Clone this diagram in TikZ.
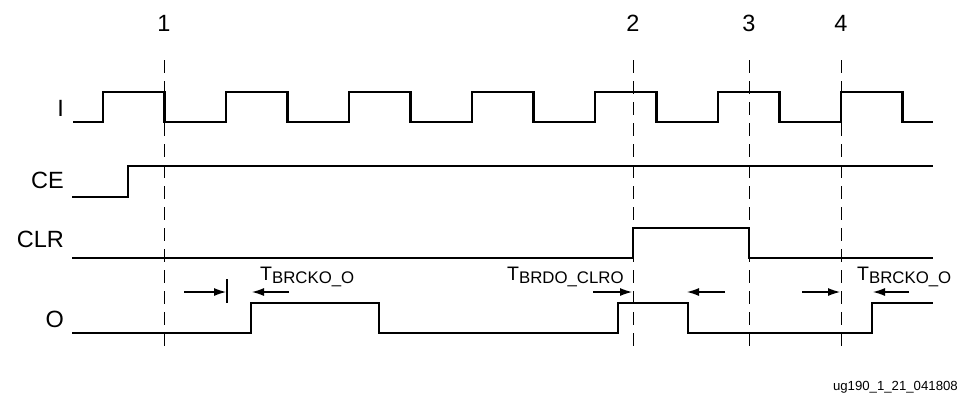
\documentclass[tikz,border=0pt]{standalone}
\usepackage{fontspec}
\setmainfont{Liberation Sans}
\usetikzlibrary{arrows.meta}

\begin{document}
\begin{tikzpicture}[x=1pt, y=-1pt,
    sig/.style={line width=2.5pt, line join=miter},
    tline/.style={line width=0.9pt, dash pattern=on 13pt off 8pt},
    tarrow/.style={line width=1.1pt, -{Latex[length=12pt,width=8pt]}},
    sigtext/.style={anchor=base east, inner sep=0pt, font=\fontsize{23.5}{26}\selectfont},
    numtext/.style={anchor=base, inner sep=0pt, font=\fontsize{23.5}{26}\selectfont},
    deltext/.style={anchor=base west, inner sep=0pt, font=\fontsize{19.5}{20}\selectfont}]
  \useasboundingbox (0,0) rectangle (961,394);

  % time markers
  \foreach \n/\tx in {1/164, 2/633, 3/749, 4/841}{
    \node[numtext] (num\n) at (\tx,31) {\n};
    \draw[tline] (\tx,60) -- (\tx,347);
  }

  % signal names
  \node[sigtext] (lblI) at (64,116) {I};
  \node[sigtext] (lblCE) at (64,188) {CE};
  \node[sigtext] (lblCLR) at (64,247) {CLR};
  \node[sigtext] (lblO) at (64,327) {O};

  % waveforms
  \draw[sig] (73,122) foreach \k in {0,...,6}{
      -- ({103+123*\k},122) -- ({103+123*\k},92)
      -- ({164.5+123*\k},92) -- ({164.5+123*\k},122)}
    -- (933,122);
  \draw[sig] (72,197) -- (128,197) -- (128,166) -- (933,166);
  \draw[sig] (72,258) -- (633,258) -- (633,228) -- (749,228)
    -- (749,258) -- (933,258);
  \draw[sig] (72,333) -- (251,333) -- (251,303) -- (379,303) -- (379,333)
    -- (618,333) -- (618,303) -- (688,303) -- (688,333)
    -- (872,333) -- (872,303) -- (933,303);

  % delays
  \draw[tarrow] (184,292) -- (226,292);
  \draw[line width=1.1pt] (227,279) -- (227,303);
  \draw[tarrow] (289,292) -- (252,292);
  \node[deltext] (tck1) at (260,280)
    {T\raisebox{-3pt}{\fontsize{16.8}{17}\selectfont BRCKO\_O}};

  \draw[tarrow] (593,292) -- (632,292);
  \draw[tarrow] (725,292) -- (687,292);
  \node[deltext] (tclr) at (507,280)
    {T\raisebox{-3pt}{\fontsize{16.8}{17}\selectfont BRDO\_CLRO}};

  \draw[tarrow] (802,292) -- (840,292);
  \draw[tarrow] (909,292) -- (873,292);
  \node[deltext] (tck2) at (857,280)
    {T\raisebox{-3pt}{\fontsize{16.8}{17}\selectfont BRCKO\_O}};

  \node[anchor=base east, inner sep=0pt, font=\fontsize{13.2}{14}\selectfont] (figid) at (958,390)
    {ug190\_1\_21\_041808};
\end{tikzpicture}
\end{document}
